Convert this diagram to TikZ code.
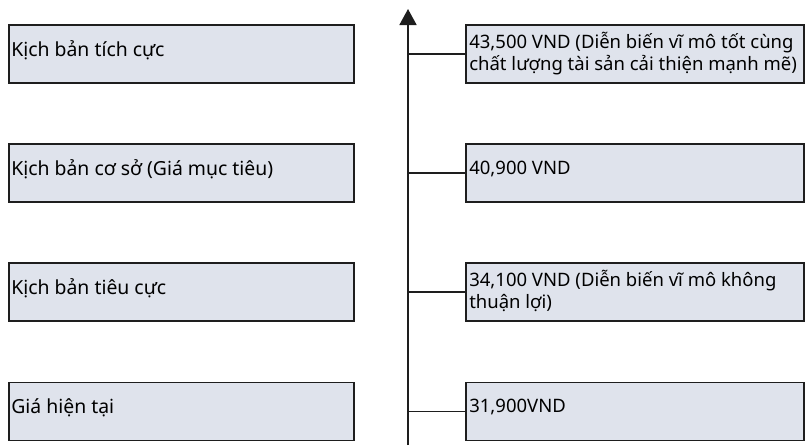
\documentclass[tikz,border=0pt]{standalone}
\usepackage{fontspec}
\setmainfont{Noto Sans}
\usetikzlibrary{arrows.meta}
\definecolor{boxfill}{RGB}{223,227,236}
\definecolor{boxline}{RGB}{30,30,30}
\tikzset{
  pbox/.style={draw=boxline, line width=1.8pt, fill=boxfill, inner sep=0pt, minimum height=58pt},
  lbox/.style={pbox, minimum width=345pt},
  rbox/.style={pbox, minimum width=338pt},
  ltext/.style={anchor=base west, inner sep=0pt, font=\fontsize{19.4}{23}\selectfont, text=black},
  rtext/.style={anchor=base west, inner sep=0pt, font=\fontsize{18.5}{22}\selectfont, text=black},
  conn/.style={draw=boxline, line width=1.8pt}
}
\begin{document}
\begin{tikzpicture}[x=1pt,y=-1pt]
\useasboundingbox (0,0) rectangle (805,445);
% left boxes
\node[lbox] (l1) at (181.5,54) {};
\node[lbox] (l2) at (181.5,173) {};
\node[lbox] (l3) at (181.5,292) {};
\node[lbox] (l4) at (181.5,411.5) {};
\node[ltext] (lt1) at ([xshift=3pt,yshift=-32pt]l1.north west) {Kịch bản tích cực};
\node[ltext] (lt2) at ([xshift=3pt,yshift=-32pt]l2.north west) {Kịch bản cơ sở (Giá mục tiêu)};
\node[ltext] (lt3) at ([xshift=3pt,yshift=-32pt]l3.north west) {Kịch bản tiêu cực};
\node[ltext] (lt4) at ([xshift=3pt,yshift=-32pt]l4.north west) {Giá hiện tại};
% right boxes
\node[rbox] (r1) at (635,54) {};
\node[rbox] (r2) at (635,173) {};
\node[rbox] (r3) at (635,292) {};
\node[rbox] (r4) at (635,411.5) {};
\node[rtext] (rt1) at ([xshift=4pt,yshift=-24pt]r1.north west) {\begin{tabular}[t]{@{}l@{}}43,500 VND (Diễn biến vĩ mô tốt cùng\\chất lượng tài sản cải thiện mạnh mẽ)\end{tabular}};
\node[rtext] (rt2) at ([xshift=4pt,yshift=-31pt]r2.north west) {40,900 VND};
\node[rtext] (rt3) at ([xshift=4pt,yshift=-24pt]r3.north west) {\begin{tabular}[t]{@{}l@{}}34,100 VND (Diễn biến vĩ mô không\\thuận lợi)\end{tabular}};
\node[rtext] (rt4) at ([xshift=4pt,yshift=-31pt]r4.north west) {31,900VND};
% axis
\coordinate (axbot) at (408,445);
\coordinate (axtop) at (408,9);
\draw[conn, -{Triangle[width=17pt,length=16pt]}] (axbot) -- (axtop);
\draw[conn] (r1.west -| axbot) -- (r1.west);
\draw[conn] (r2.west -| axbot) -- (r2.west);
\draw[conn] (r3.west -| axbot) -- (r3.west);
\draw[conn] (r4.west -| axbot) -- (r4.west);
\end{tikzpicture}
\end{document}
